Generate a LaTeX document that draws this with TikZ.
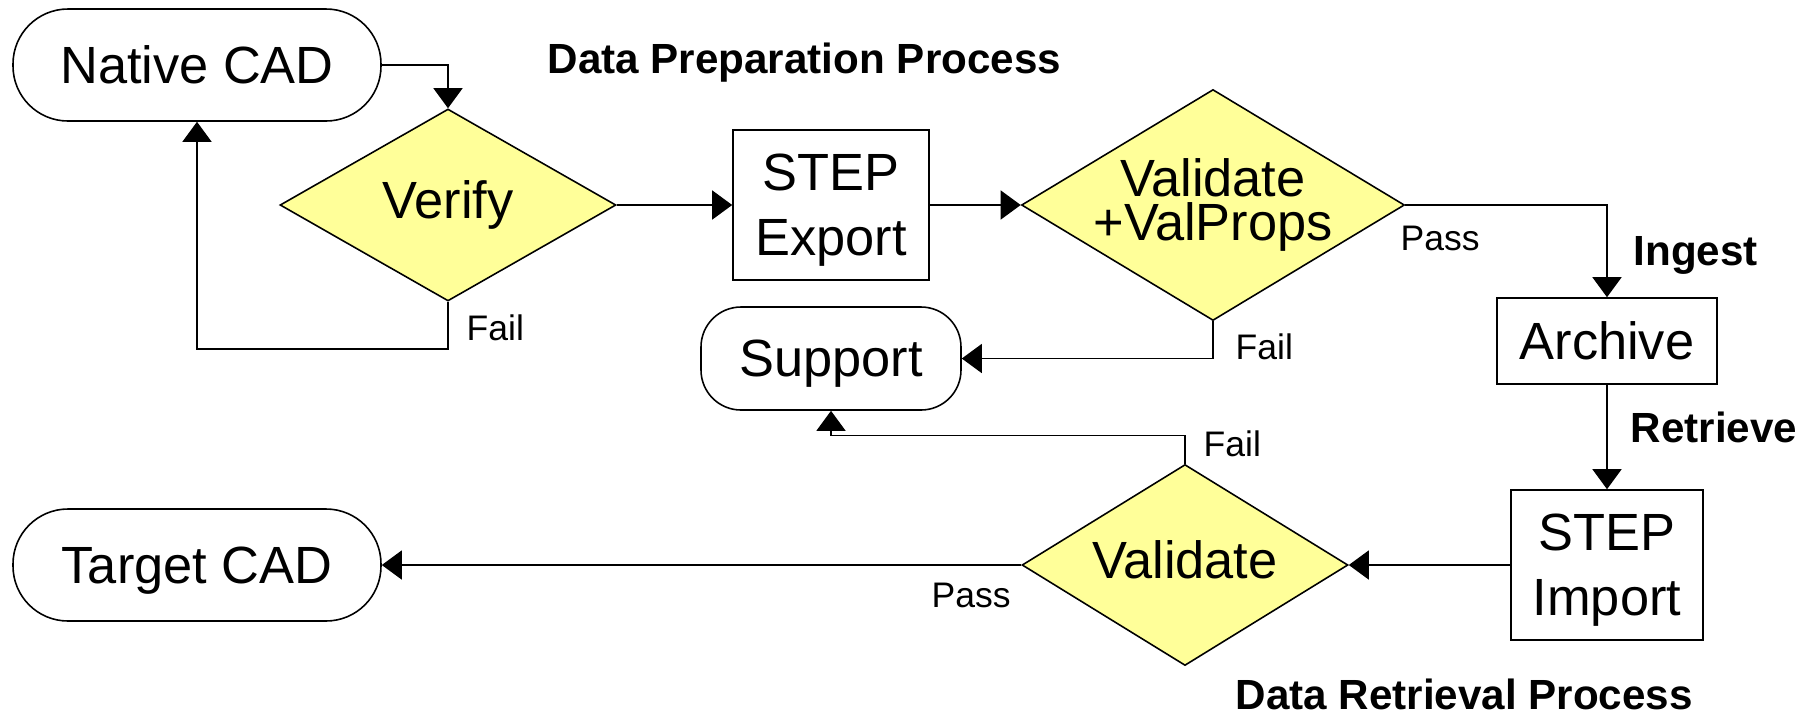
\documentclass[tikz,border=0pt]{standalone}
\usepackage{fontspec}
\setmainfont{Liberation Sans}
\usetikzlibrary{arrows.meta,positioning,shapes.geometric}
\definecolor{decisionyellow}{HTML}{FFFF99}

\begin{document}
\begin{tikzpicture}[
  terminal/.style={draw, rectangle, rounded corners=5.5mm, minimum width=3.68cm, minimum height=1.12cm, text depth=0pt, line width=0.45pt, font=\fontsize{14.9pt}{18pt}\selectfont},
  process/.style={draw, rectangle, inner sep=2pt, text depth=0pt, line width=0.45pt, align=center, font=\fontsize{14.9pt}{18.4pt}\selectfont},
  % negative inner sep keeps the diamond at its minimum size
  decision/.style={draw, diamond, aspect=1.7, fill=decisionyellow, inner sep=-6pt, line width=0.45pt, align=center, font=\fontsize{14.9pt}{18pt}\selectfont},
  note/.style={inner sep=0pt, anchor=base west, font=\fontsize{10.1pt}{12pt}\selectfont},
  heading/.style={inner sep=0pt, anchor=base west, font=\bfseries\fontsize{12pt}{14pt}\selectfont},
  flow/.style={-{Triangle[length=2mm, width=2.9mm]}, line width=0.4pt, draw=black},
]
\useasboundingbox (0,0) rectangle (18.12,-7.15);

% Data preparation
\node[terminal] (native) at (1.97,-0.65) {Native CAD};
\node[decision, minimum width=3.36cm, minimum height=1.92cm] (verify) at (4.48,-2.05) {Verify};
\node[process, minimum width=1.96cm, minimum height=1.50cm] (export) at (8.31,-2.05) {STEP\\Export};
\node[decision, minimum width=3.83cm, minimum height=2.31cm, font=\fontsize{14.9pt}{12.4pt}\selectfont] (valprops) at (12.13,-2.05) {Validate\\+ValProps};
\node[terminal, minimum width=2.60cm, minimum height=1.03cm, rounded corners=4mm] (support) at (8.31,-3.585) {Support};

% Archive
\node[process, minimum width=2.20cm, minimum height=0.86cm] (archive) at (16.07,-3.41) {Archive};
\node[process, minimum width=1.92cm, minimum height=1.50cm] (import) at (16.07,-5.65) {STEP\\Import};

% Data retrieval
\node[decision, minimum width=3.26cm, minimum height=2.01cm, text depth=3pt] (validate) at (11.85,-5.65) {Validate};
\node[terminal] (target) at (1.97,-5.65) {Target CAD};

% Titles and branch labels
\node[heading] (preptitle) at (5.47,-0.73) {Data Preparation Process};
\node[heading] (retrtitle) at (12.35,-7.09) {Data Retrieval Process};
\node[heading] (ingest) at (16.33,-2.65) {Ingest};
\node[heading] (retrieve) at (16.30,-4.42) {Retrieve};
\node[note] (verifyfail) at (4.66,-3.40) {Fail};
\node[note] (valpass) at (14.00,-2.50) {Pass};
\node[note] (valfail) at (12.35,-3.59) {Fail};
\node[note] (checkfail) at (12.03,-4.56) {Fail};
\node[note] (checkpass) at (9.31,-6.07) {Pass};

\draw[flow] (native.east) -| (verify.north);
\draw[flow] (verify.south) -- ++(0,-0.47) -| (native.south);
\draw[flow] (verify.east) -- (export.west);
\draw[flow] (export.east) -- (valprops.west);
\draw[flow] (valprops.east) -| (archive.north);
\draw[flow] (valprops.south) |- (support.east);
\draw[flow] (archive.south) -- (import.north);
\draw[flow] (import.west) -- (validate.east);
\draw[flow] (validate.north) -- ++(0,0.28) -| (support.south);
\draw[flow] (validate.west) -- (target.east);

\end{tikzpicture}
\end{document}
